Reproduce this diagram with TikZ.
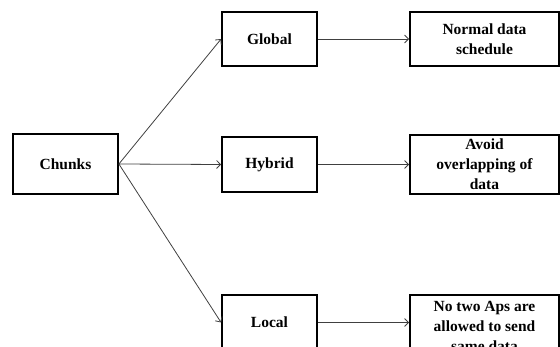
\documentclass[tikz,border=0pt]{standalone}
\usepackage{fontspec}
\setmainfont{Liberation Serif}
\usetikzlibrary{arrows.meta}
\begin{document}
\begin{tikzpicture}[x=1pt,y=-1pt,
  box/.style={draw=black,line width=1.8pt,inner sep=0pt,align=center,
    font=\fontsize{15.5}{20}\selectfont\bfseries},
  conn/.style={draw=black!75,line width=0.8pt,-{Straight Barb[length=4pt,width=8pt]}}]
\clip (0,0) rectangle (560,347);
\node[box,minimum width=105,minimum height=60] (chunks) at (65.5,164) {Chunks};
\node[box,minimum width=95,minimum height=54] (global) at (269.5,39) {Global};
\node[box,minimum width=95,minimum height=55] (hybrid) at (269.5,164.5) {Hybrid};
\node[box,minimum width=95,minimum height=55] (local) at (269.5,322.5) {Local};
\node[box,minimum width=149,minimum height=54] (normal) at (484.5,39) {Normal data\\schedule};
\node[box,minimum width=149,minimum height=59] (avoid) at (484.5,164.5) {Avoid\\overlapping of\\data};
\node[box,minimum width=149,minimum height=62] (notwo) at (484.5,326) {No two Aps are\\allowed to send\\same data};
\draw[conn] (chunks.east) -- (global.west);
\draw[conn] (chunks.east) -- (hybrid.west);
\draw[conn] (chunks.east) -- (local.west);
\draw[conn] (global.east) -- (normal.west);
\draw[conn] (hybrid.east) -- (avoid.west);
\draw[conn] (local.east) -- (local.east -| notwo.west);
\end{tikzpicture}
\end{document}
